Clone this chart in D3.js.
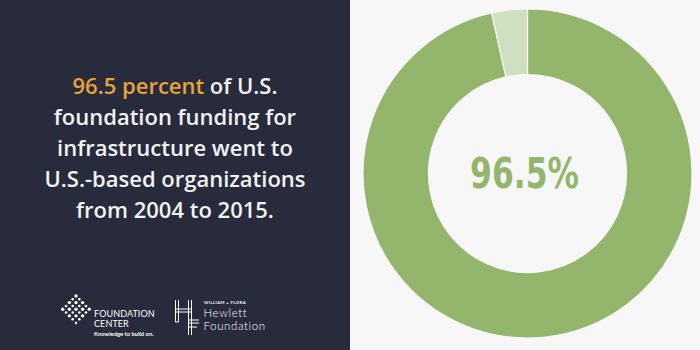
<!DOCTYPE html>
<html><head><meta charset="utf-8">
<script src="https://cdn.jsdelivr.net/npm/d3@7/dist/d3.min.js"></script>
<style>
html,body{margin:0;padding:0;background:#f7f7f7;}
svg{display:block;}
</style></head>
<body>
<svg id="c" width="700" height="350"></svg>
<script>
// ---- data ----
const categories = ["U.S.-based organizations", "Non-U.S.-based organizations"];
const shares = [96.5, 3.5];
const centerLabel = "96.5%";
const headlineLines = [
  [{t:"96.5 percent", hi:true},{t:" of U.S.", hi:false}],
  [{t:"foundation funding for", hi:false}],
  [{t:"infrastructure went to", hi:false}],
  [{t:"U.S.-based organizations", hi:false}],
  [{t:"from 2004 to 2015.", hi:false}]
];

const svg = d3.select("#c");
const W = 700, H = 350;

// panels
svg.append("rect").attr("x",0).attr("y",0).attr("width",W).attr("height",H).attr("fill","#f7f7f7");
svg.append("rect").attr("x",0).attr("y",0).attr("width",350).attr("height",H).attr("fill","#272b3b");

// headline
const lineY = d3.scalePoint().domain(d3.range(headlineLines.length)).range([94, 218]);
const tg = svg.append("g").attr("font-family","'Open Sans', sans-serif").attr("font-weight",600).attr("font-size",22);
headlineLines.forEach((ln,i)=>{
  const t = tg.append("text").attr("x",175).attr("y",lineY(i)).attr("text-anchor","middle");
  ln.forEach(seg=>{
    t.append("tspan").text(seg.t).attr("fill", seg.hi ? "#e8a23a" : "#f2f2f2");
  });
});

// donut
const cx = 527.5, cy = 173.5, rOut = 164.5, rIn = 99;
const color = d3.scaleOrdinal().domain(categories).range(["#93b66c","#cfdfc1"]);
const pie = d3.pie().sort(null).value(d=>d.v);
const arc = d3.arc().innerRadius(rIn).outerRadius(rOut);
const pdata = pie(categories.map((c,i)=>({c, v:shares[i]})));
const dg = svg.append("g").attr("transform",`translate(${cx},${cy})`);
dg.selectAll("path").data(pdata).join("path")
  .attr("d",arc).attr("fill",d=>color(d.data.c))
  .attr("stroke","#f7f7f7").attr("stroke-width",1.2);
dg.append("text").text(centerLabel)
  .attr("transform","translate(-3,14.5) scale(0.83,1)")
  .attr("text-anchor","middle")
  .attr("font-family","'DejaVu Sans Condensed','DejaVu Sans',sans-serif")
  .attr("font-weight","bold").attr("font-size",42)
  .attr("fill","#93b66c");

// Foundation Center logo
const lg = svg.append("g");
const dots = [];
const sp = 4.6;
for(let i=0;i<5;i++) for(let j=0;j<5;j++){
  if (i===4 && j===4) continue;
  dots.push({x:(i-j)*sp*0.72, y:(i+j)*sp*0.72, r: (i+j)%2===0 ? 1.7 : 1.3});
}
dots.push({x:0, y:8*sp*0.72+0.5, r:1.2});
lg.append("g").attr("transform","translate(76,296)")
  .selectAll("circle").data(dots).join("circle")
  .attr("cx",d=>d.x).attr("cy",d=>d.y).attr("r",d=>d.r).attr("fill","#ffffff");
const fc = lg.append("g").attr("font-family","Lato, 'Open Sans', sans-serif").attr("fill","#ffffff");
fc.append("text").text("FOUNDATION").attr("x",94).attr("y",316.5).attr("font-size",9).attr("font-weight",400).attr("letter-spacing",0.1);
fc.append("text").text("CENTER").attr("x",94).attr("y",327).attr("font-size",9).attr("font-weight",400).attr("letter-spacing",0.1);
fc.append("text").text("Knowledge to build on.").attr("x",94).attr("y",336).attr("font-size",5.8).attr("font-weight",700);

// Hewlett logo
const hg = svg.append("g").attr("stroke","#ffffff").attr("stroke-width",1).attr("fill","none");
const segs = [
  [175.5,300,175.5,322],[178.5,300,178.5,322],
  [188.5,300,188.5,335],[191.5,300,191.5,335],
  [175.5,309,191.5,309],[175.5,312,191.5,312],
  [188.5,320,199,320],[188.5,323,199,323],
  [175.5,322,178.5,322],[188.5,327,197,327]
];
hg.selectAll("line").data(segs).join("line")
  .attr("x1",d=>d[0]).attr("y1",d=>d[1]).attr("x2",d=>d[2]).attr("y2",d=>d[3]);
const ht = svg.append("g").attr("font-family","Lato, sans-serif").attr("fill","#ffffff");
ht.append("text").text("WILLIAM + FLORA").attr("x",204).attr("y",303.5).attr("font-size",4.2).attr("font-weight",700).attr("letter-spacing",0.4);
ht.append("text").text("Hewlett").attr("x",203.5).attr("y",316.5).attr("font-size",11.5).attr("font-weight",300).attr("letter-spacing",0.6);
ht.append("text").text("Foundation").attr("x",203.5).attr("y",330).attr("font-size",11.5).attr("font-weight",300).attr("letter-spacing",0.6);
</script>
</body></html>
